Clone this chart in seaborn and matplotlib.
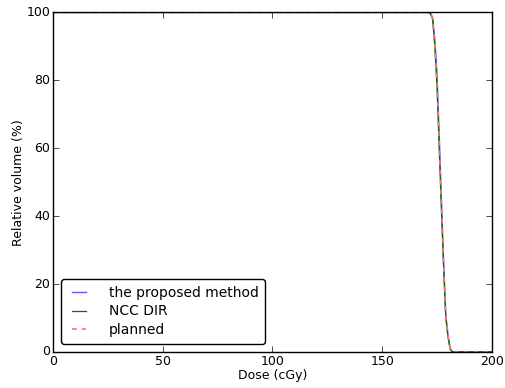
import numpy as np
import pandas as pd
import seaborn as sns
import matplotlib
matplotlib.use("Agg")
import matplotlib.pyplot as plt

# DVH curves
dose = [0, 165, 171, 172, 173, 174, 175, 176, 177, 178, 179, 180, 181, 182, 200]
proposed = [100, 100, 100, 99.8, 98.5, 92, 82, 64, 45, 27, 11, 5, 1, 0, 0]
ncc_dir = [100, 100, 100, 99.6, 98, 90, 78, 60, 42, 25, 10, 4.5, 0.8, 0, 0]
planned = [100, 100, 100, 99.7, 98.2, 91, 80, 62, 44, 26, 11, 4.8, 1, 0, 0]

df = pd.DataFrame({
    "dose": dose * 3,
    "volume": proposed + ncc_dir + planned,
    "method": ["the proposed method"] * len(dose) + ["NCC DIR"] * len(dose) + ["planned"] * len(dose),
})

plt.style.use("classic")
fig, ax = plt.subplots(figsize=(5.06, 3.88), dpi=100)
fig.patch.set_facecolor("white")

styles = {
    "the proposed method": dict(color=(0.35, 0.35, 1.0), lw=1.0, ls="-"),
    "NCC DIR": dict(color=(0.0, 0.45, 0.0), lw=0.9, ls="-"),
    "planned": dict(color=(1.0, 0.45, 0.45), lw=1.2, ls=(0, (3.5, 3.5))),
}
for name, st in styles.items():
    sns.lineplot(data=df[df.method == name], x="dose", y="volume", ax=ax,
                 estimator=None, sort=False, label=name, **st)

ax.set_xlim(0, 200)
ax.set_ylim(0, 100)
ax.set_xticks([0, 50, 100, 150, 200])
ax.set_yticks([0, 20, 40, 60, 80, 100])
ax.tick_params(labelsize=9, direction="in", top=True, right=True, pad=2)
ax.set_xlabel("Dose (cGy)", fontsize=9, labelpad=1)
ax.set_ylabel("Relative volume (%)", fontsize=9, labelpad=1)
leg = ax.legend(loc="lower left", fontsize=10, frameon=True, fancybox=True,
                handlelength=1.6, handletextpad=1.35, borderaxespad=0.6,
                labelspacing=0.35, borderpad=0.45)
leg.get_frame().set_edgecolor("black")

fig.subplots_adjust(left=0.105, right=0.972, top=0.968, bottom=0.093)
fig.savefig("out.png", dpi=100, facecolor="white")
